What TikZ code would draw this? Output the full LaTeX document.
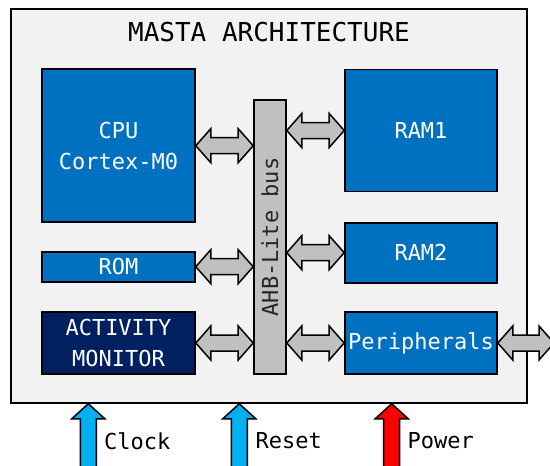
\documentclass[tikz,border=0pt]{standalone}
\usepackage{fontspec}
\setmainfont{DejaVu Sans Mono}
\usetikzlibrary{calc}
\definecolor{boxblue}{HTML}{0070C0}
\definecolor{monnavy}{HTML}{002060}
\definecolor{chipgray}{HTML}{F2F2F2}
\definecolor{busgray}{HTML}{C0C0C0}
\definecolor{sigcyan}{HTML}{00B0F0}
\tikzset{
  chip/.style={draw=black, line width=1.5pt, fill=chipgray, inner sep=0pt},
  block/.style={draw=black, line width=1.6pt, fill=boxblue, text=white, align=center, inner sep=0pt, font=\fontsize{22}{31}\selectfont},
  busbar/.style={draw=black, line width=1.6pt, fill=busgray, inner sep=0pt},
  busarrow/.style={draw=black, line width=1.5pt, fill=busgray,
    to path={let \p1=(\tikztostart), \p2=(\tikztotarget) in
      (\x1,\y1) -- (\x1+15pt,\y1+17pt) -- (\x1+15pt,\y1+8pt) -- (\x2-15pt,\y1+8pt) -- (\x2-15pt,\y1+17pt)
      -- (\x2,\y1) -- (\x2-15pt,\y1-17pt) -- (\x2-15pt,\y1-8pt) -- (\x1+15pt,\y1-8pt) -- (\x1+15pt,\y1-17pt) -- cycle}},
  sigarrow/.style={draw=black, line width=1.5pt,
    to path={let \p1=(\tikztostart), \p2=(\tikztotarget) in
      (\x2,\y2) -- (\x2+16.5pt,\y2-15pt) -- (\x2+8pt,\y2-15pt) -- (\x2+8pt,\y1)
      -- (\x2-8pt,\y1) -- (\x2-8pt,\y2-15pt) -- (\x2-16.5pt,\y2-15pt) -- cycle}},
  siglabel/.style={anchor=west, inner sep=0pt, font=\fontsize{22}{26}\selectfont}
}
\begin{document}
\begin{tikzpicture}[x=1pt,y=-1pt]
\useasboundingbox (0,0) rectangle (550,466);
% chip outline and title
\node[chip, minimum width=516pt, minimum height=394pt] (chip) at (269,206) {};
\node[font=\fontsize{26}{30}\selectfont] (title) at (269,32) {MASTA ARCHITECTURE};
% blocks
\node[block, minimum width=153pt, minimum height=153pt] (cpu) at (118.5,145.7) {CPU\\Cortex-M0};
\node[block, minimum width=153pt, minimum height=30pt] (rom) at (118.5,266.7) {ROM};
\node[block, fill=monnavy, minimum width=153pt, minimum height=62pt] (actmon) at (118.5,343) {ACTIVITY\\MONITOR};
\node[block, minimum width=152pt, minimum height=122pt] (ram1) at (421,130.5) {RAM1};
\node[block, minimum width=152pt, minimum height=60pt] (ram2) at (421,252.7) {RAM2};
\node[block, minimum width=152pt, minimum height=62pt] (periph) at (421,343) {Peripherals};
% bus
\node[busbar, minimum width=32pt, minimum height=274pt] (bus) at (270,237) {};
\node[rotate=90, text=black!85, font=\fontsize{22}{26}\selectfont] (buslabel) at (bus.center) {AHB-Lite bus};
% bus connections
\draw[busarrow] (cpu.east) to (bus.west |- cpu.east);
\draw[busarrow] (rom.east) to (bus.west |- rom.east);
\draw[busarrow] (actmon.east) to (bus.west |- actmon.east);
\draw[busarrow] (bus.east |- ram1.west) to (ram1.west);
\draw[busarrow] (bus.east |- ram2.west) to (ram2.west);
\draw[busarrow] (bus.east |- periph.west) to (periph.west);
\coordinate (extio) at (554,343);
\draw[busarrow] (periph.east) to (extio);
% inputs
\coordinate (clkin) at (88.3,470);
\coordinate (rstin) at (239.3,470);
\coordinate (pwrin) at (391.7,470);
\draw[sigarrow, fill=sigcyan] (clkin) to (chip.south -| clkin);
\draw[sigarrow, fill=sigcyan] (rstin) to (chip.south -| rstin);
\draw[sigarrow, fill=red] (pwrin) to (chip.south -| pwrin);
\node[siglabel] (clklabel) at (104,441) {Clock};
\node[siglabel] (rstlabel) at (255.5,441) {Reset};
\node[siglabel] (pwrlabel) at (407.5,441) {Power};
\end{tikzpicture}
\end{document}
